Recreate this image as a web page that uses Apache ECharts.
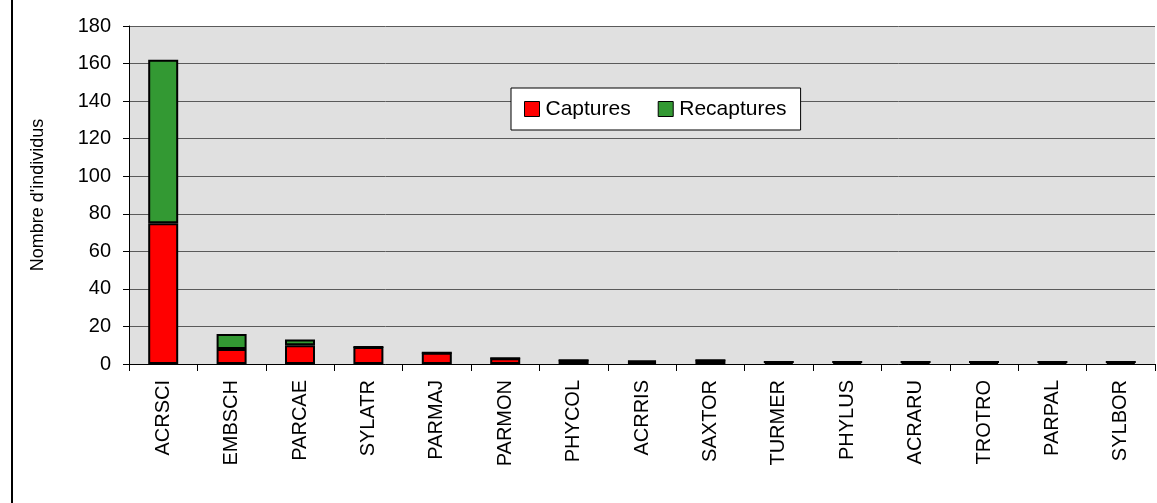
<!DOCTYPE html>
<html>
<head>
<meta charset="utf-8">
<script src="https://cdn.jsdelivr.net/npm/echarts@6/dist/echarts.min.js"></script>
<style>
html,body{margin:0;padding:0;background:#fff;}
#c{width:1157px;height:503px;}
</style>
</head>
<body>
<div id="c"></div>
<script>
var categories = ['ACRSCI','EMBSCH','PARCAE','SYLATR','PARMAJ','PARMON','PHYCOL','ACRRIS','SAXTOR','TURMER','PHYLUS','ACRARU','TROTRO','PARPAL','SYLBOR'];
var captures   = [75, 8, 10, 9, 6, 3, 2, 1, 2, 1, 1, 1, 1, 1, 1];
var recaptures = [87, 8, 3, 0, 0, 0, 0, 1, 0, 0, 0, 0, 0, 0, 0];
var yTicks = [0, 20, 40, 60, 80, 100, 120, 140, 160, 180];

var font = 'Liberation Sans, Arial, sans-serif';
var chart = echarts.init(document.getElementById('c'), null, {renderer:'canvas'});
chart.setOption({
  animation: false,
  textStyle: {fontFamily: font, color: '#000'},
  grid: {left: 129, right: 2, top: 26, bottom: 139, show: true, backgroundColor: '#e0e0e0', borderWidth: 0},
  legend: {
    left: 511, top: 88,
    padding: [10, 14, 10, 13],
    backgroundColor: '#fff', borderColor: '#000', borderWidth: 1, borderRadius: 0,
    itemWidth: 15, itemHeight: 15, itemGap: 27,
    icon: 'rect',
    itemStyle: {borderColor: '#000', borderWidth: 1},
    textStyle: {fontFamily: font, fontSize: 21, color: '#000', padding: [0,0,0,1], lineHeight: 22},
    data: ['Captures', 'Recaptures']
  },
  xAxis: {
    type: 'category', data: categories,
    axisLine: {lineStyle: {color: '#000', width: 1}},
    axisTick: {show: true, length: 7, lineStyle: {color: '#000'}},
    axisLabel: {rotate: 90, fontSize: 20, color: '#000', fontFamily: font, margin: 16, interval: 0}
  },
  yAxis: {
    type: 'value', min: 0, max: 180, interval: 20,
    axisLine: {show: true, lineStyle: {color: '#000', width: 1}},
    axisTick: {show: true, length: 6, lineStyle: {color: '#000'}},
    axisLabel: {fontSize: 20, color: '#000', fontFamily: font, margin: 18,
      formatter: function(v){ return yTicks.indexOf(v) >= 0 ? String(v) : ''; }},
    splitLine: {show: true, lineStyle: {color: '#5a5a5a', width: 1}}
  },
  graphic: [
    {type: 'line', shape: {x1: 12, y1: 0, x2: 12, y2: 503}, style: {stroke: '#000', lineWidth: 2}},
    {type: 'text', x: 38, y: 195, rotation: Math.PI/2,
      style: {text: "Nombre d'individus", font: '18px ' + font, fill: '#000', align: 'center', verticalAlign: 'middle'}}
  ],
  series: [
    {name: 'Captures', type: 'bar', stack: 's', data: captures, barWidth: 30,
      itemStyle: {color: '#ff0000', borderColor: '#000', borderWidth: 2}},
    {name: 'Recaptures', type: 'bar', stack: 's', data: recaptures, barWidth: 30,
      itemStyle: {color: '#339933', borderColor: '#000', borderWidth: 2}}
  ]
});
</script>
</body>
</html>
